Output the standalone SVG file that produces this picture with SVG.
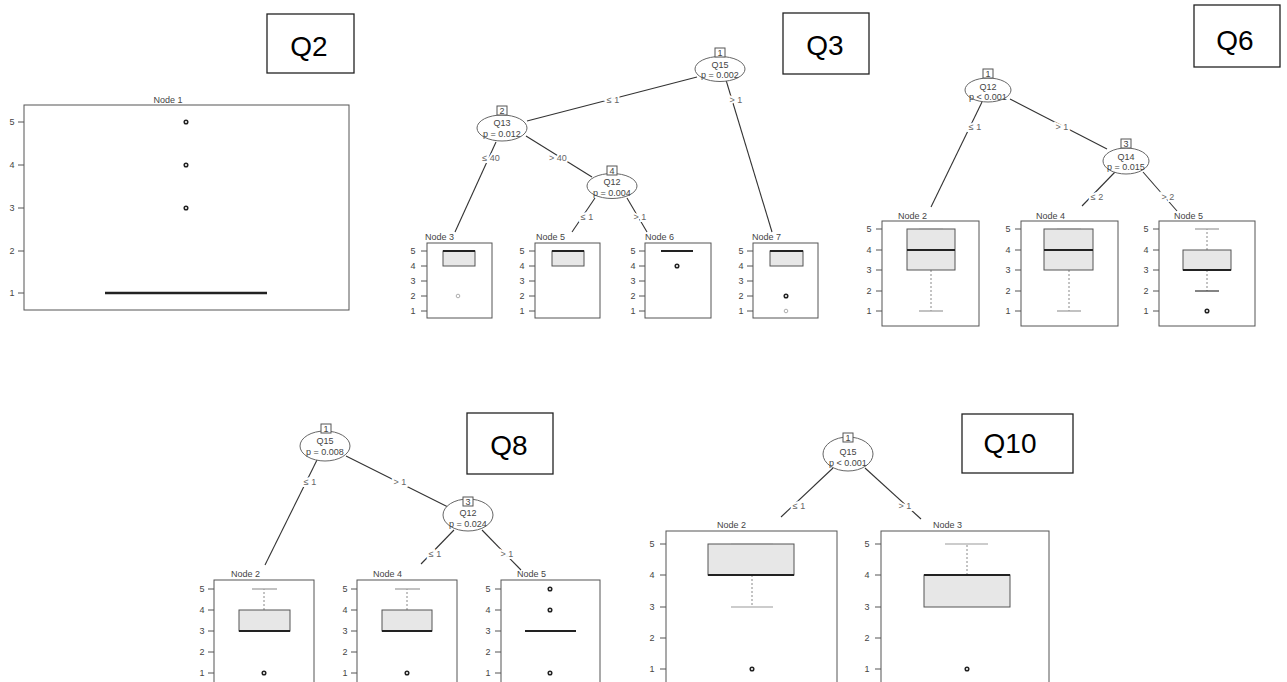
<svg xmlns="http://www.w3.org/2000/svg" width="1287" height="682" viewBox="0 0 1287 682">
<style>
.bg{fill:#fff}
.qbox{fill:#fff;stroke:#222;stroke-width:1.3}
.q{font-family:"Liberation Sans",Arial,sans-serif;font-size:28px;fill:#000;text-anchor:middle}
.edge{stroke:#333;stroke-width:1.1;fill:none}
.ell{fill:#fff;stroke:#666;stroke-width:1}
.idb{fill:#fff;stroke:#555;stroke-width:1}
.t{font-family:"Liberation Sans",Arial,sans-serif;font-size:9px;fill:#444}
.c{text-anchor:middle}
.lbl{font-family:"Liberation Sans",Arial,sans-serif;font-size:9px;fill:#666;text-anchor:middle;stroke:#fff;stroke-width:4;paint-order:stroke}
.panel{fill:#fff;stroke:#555;stroke-width:1}
.tick{stroke:#555;stroke-width:1;fill:none}
.iqr{fill:#e7e7e7;stroke:#555;stroke-width:1}
.med{stroke:#222;stroke-width:2}
.wh{stroke:#888;stroke-width:1;stroke-dasharray:2 2}
.cap{stroke:#999;stroke-width:1.2}
.out{fill:none;stroke:#222;stroke-width:1.5}
.outl{fill:none;stroke:#999;stroke-width:0.8}
</style>
<rect class="bg" x="0" y="0" width="1287" height="682"/>

<!-- Question labels -->
<g id="label-q2"><rect class="qbox" x="267" y="14" width="87" height="59"/><text class="q" x="309" y="56">Q2</text></g>
<g id="label-q3"><rect class="qbox" x="783" y="13" width="86" height="61"/><text class="q" x="825" y="55">Q3</text></g>
<g id="label-q6"><rect class="qbox" x="1194" y="5" width="86" height="62"/><text class="q" x="1235" y="50">Q6</text></g>
<g id="label-q8"><rect class="qbox" x="467" y="413" width="86" height="61"/><text class="q" x="509" y="455">Q8</text></g>
<g id="label-q10"><rect class="qbox" x="962" y="414" width="111" height="59"/><text class="q" x="1010" y="453">Q10</text></g>

<!-- Connectors -->
<g id="connectors">
  <!-- Q3 -->
  <line class="edge" x1="697" y1="77" x2="527" y2="121"/>
  <line class="edge" x1="726" y1="80" x2="772" y2="232"/>
  <line class="edge" x1="496" y1="142" x2="455" y2="232"/>
  <line class="edge" x1="526" y1="136" x2="592" y2="177"/>
  <line class="edge" x1="595" y1="198" x2="572" y2="232"/>
  <line class="edge" x1="627" y1="198" x2="647" y2="232"/>
  <text class="lbl" x="613" y="103">≤ 1</text>
  <text class="lbl" x="736" y="103">&gt; 1</text>
  <text class="lbl" x="491" y="161">≤ 40</text>
  <text class="lbl" x="558" y="161">&gt; 40</text>
  <text class="lbl" x="587" y="220">≤ 1</text>
  <text class="lbl" x="640" y="220">&gt; 1</text>
  <!-- Q6 -->
  <line class="edge" x1="982" y1="102" x2="931" y2="207"/>
  <line class="edge" x1="1010" y1="99" x2="1107" y2="149"/>
  <line class="edge" x1="1115" y1="172" x2="1082" y2="206"/>
  <line class="edge" x1="1143" y1="172" x2="1177" y2="211"/>
  <text class="lbl" x="975" y="130">≤ 1</text>
  <text class="lbl" x="1062" y="130">&gt; 1</text>
  <text class="lbl" x="1097" y="200">≤ 2</text>
  <text class="lbl" x="1168" y="200">&gt; 2</text>
  <!-- Q8 -->
  <line class="edge" x1="317" y1="460" x2="265" y2="565"/>
  <line class="edge" x1="346" y1="456" x2="448" y2="507"/>
  <line class="edge" x1="454" y1="530" x2="421" y2="564"/>
  <line class="edge" x1="482" y1="530" x2="521" y2="570"/>
  <text class="lbl" x="310" y="485">≤ 1</text>
  <text class="lbl" x="400" y="485">&gt; 1</text>
  <text class="lbl" x="435" y="557">≤ 1</text>
  <text class="lbl" x="507" y="557">&gt; 1</text>
  <!-- Q10 -->
  <line class="edge" x1="833" y1="468" x2="781" y2="517"/>
  <line class="edge" x1="865" y1="468" x2="921" y2="519"/>
  <text class="lbl" x="799" y="509">≤ 1</text>
  <text class="lbl" x="905" y="509">&gt; 1</text>
</g>

<!-- Q2 -->
<g id="q2-node1">
  <text class="t c" x="168" y="103">Node 1</text>
  <rect class="panel" x="24" y="105" width="325" height="205"/>
  <path class="tick" d="M18 122H24M18 165H24M18 208H24M18 251H24M18 293H24"/>
  <text class="t c" x="12" y="125">5</text><text class="t c" x="12" y="168">4</text><text class="t c" x="12" y="211">3</text><text class="t c" x="12" y="254">2</text><text class="t c" x="12" y="296">1</text>
  <line class="med" x1="105" y1="293" x2="267" y2="293" style="stroke-width:2.5"/>
  <circle class="out" cx="186" cy="122" r="1.8"/><circle class="out" cx="186" cy="165" r="1.8"/><circle class="out" cx="186" cy="208" r="1.8"/>
</g>

<!-- Q3 tree -->
<g id="q3-node1">
  <ellipse class="ell" cx="720" cy="69" rx="25" ry="12.5"/>
  <rect class="idb" x="715" y="48" width="10" height="9"/><text class="t c" x="720" y="56">1</text>
  <text class="t c" x="720" y="68">Q15</text><text class="t c" x="720" y="78">p = 0.002</text>
</g>
<g id="q3-node2">
  <ellipse class="ell" cx="502" cy="128" rx="25" ry="13"/>
  <rect class="idb" x="497" y="106" width="10" height="9"/><text class="t c" x="502" y="114">2</text>
  <text class="t c" x="502" y="126">Q13</text><text class="t c" x="502" y="137">p = 0.012</text>
</g>
<g id="q3-node4">
  <ellipse class="ell" cx="612" cy="186" rx="25" ry="12.5"/>
  <rect class="idb" x="607" y="166" width="10" height="9"/><text class="t c" x="612" y="174">4</text>
  <text class="t c" x="612" y="185">Q12</text><text class="t c" x="612" y="196">p = 0.004</text>
</g>
<g id="q3-node3">
  <text class="t" x="425" y="240">Node 3</text>
  <rect class="panel" x="427" y="243" width="65" height="75"/>
  <path class="tick" d="M421 251H427M421 266H427M421 281H427M421 296H427M421 311H427"/>
  <text class="t c" x="413" y="254">5</text><text class="t c" x="413" y="269">4</text><text class="t c" x="413" y="284">3</text><text class="t c" x="413" y="299">2</text><text class="t c" x="413" y="314">1</text>
  <rect class="iqr" x="443" y="251" width="32" height="15"/><line class="med" x1="443" y1="251" x2="475" y2="251"/>
  <circle class="outl" cx="458" cy="296" r="1.8"/>
</g>
<g id="q3-node5">
  <text class="t" x="536" y="240">Node 5</text>
  <rect class="panel" x="535" y="243" width="65" height="75"/>
  <path class="tick" d="M529 251H535M529 266H535M529 281H535M529 296H535M529 311H535"/>
  <text class="t c" x="522" y="254">5</text><text class="t c" x="522" y="269">4</text><text class="t c" x="522" y="284">3</text><text class="t c" x="522" y="299">2</text><text class="t c" x="522" y="314">1</text>
  <rect class="iqr" x="552" y="251" width="32" height="15"/><line class="med" x1="552" y1="251" x2="584" y2="251"/>
</g>
<g id="q3-node6">
  <text class="t" x="645" y="240">Node 6</text>
  <rect class="panel" x="645" y="243" width="66" height="75"/>
  <path class="tick" d="M639 251H645M639 266H645M639 281H645M639 296H645M639 311H645"/>
  <text class="t c" x="633" y="254">5</text><text class="t c" x="633" y="269">4</text><text class="t c" x="633" y="284">3</text><text class="t c" x="633" y="299">2</text><text class="t c" x="633" y="314">1</text>
  <line class="med" x1="661" y1="251" x2="693" y2="251"/>
  <circle class="out" cx="677" cy="266" r="1.8"/>
</g>
<g id="q3-node7">
  <text class="t" x="752" y="240">Node 7</text>
  <rect class="panel" x="753" y="243" width="65" height="75"/>
  <path class="tick" d="M747 251H753M747 266H753M747 281H753M747 296H753M747 311H753"/>
  <text class="t c" x="741" y="254">5</text><text class="t c" x="741" y="269">4</text><text class="t c" x="741" y="284">3</text><text class="t c" x="741" y="299">2</text><text class="t c" x="741" y="314">1</text>
  <rect class="iqr" x="770" y="251" width="33" height="15"/><line class="med" x1="770" y1="251" x2="803" y2="251"/>
  <circle class="out" cx="786" cy="296" r="1.8"/><circle class="outl" cx="786" cy="311" r="1.8"/>
</g>

<!-- Q6 tree -->
<g id="q6-node1">
  <ellipse class="ell" cx="988" cy="90" rx="23" ry="12"/>
  <rect class="idb" x="983" y="69" width="10" height="9"/><text class="t c" x="988" y="77">1</text>
  <text class="t c" x="988" y="90">Q12</text><text class="t c" x="988" y="100">p &lt; 0.001</text>
</g>
<g id="q6-node3">
  <ellipse class="ell" cx="1126" cy="161" rx="23" ry="13"/>
  <rect class="idb" x="1121" y="139" width="10" height="9"/><text class="t c" x="1126" y="147">3</text>
  <text class="t c" x="1126" y="160">Q14</text><text class="t c" x="1126" y="170">p = 0.015</text>
</g>
<g id="q6-node2">
  <text class="t" x="898" y="219">Node 2</text>
  <rect class="panel" x="882" y="221" width="97" height="105"/>
  <path class="tick" d="M876 229H882M876 250H882M876 270H882M876 291H882M876 311H882"/>
  <text class="t c" x="869" y="232">5</text><text class="t c" x="869" y="253">4</text><text class="t c" x="869" y="273">3</text><text class="t c" x="869" y="294">2</text><text class="t c" x="869" y="314">1</text>
  <line class="wh" x1="931" y1="270" x2="931" y2="311"/><line class="cap" x1="919" y1="311" x2="943" y2="311"/>
  <rect class="iqr" x="907" y="229" width="48" height="41"/><line class="cap" x1="919" y1="229" x2="943" y2="229"/>
  <line class="med" x1="907" y1="250" x2="955" y2="250"/>
</g>
<g id="q6-node4">
  <text class="t" x="1036" y="219">Node 4</text>
  <rect class="panel" x="1021" y="221" width="97" height="105"/>
  <path class="tick" d="M1015 229H1021M1015 250H1021M1015 270H1021M1015 291H1021M1015 311H1021"/>
  <text class="t c" x="1008" y="232">5</text><text class="t c" x="1008" y="253">4</text><text class="t c" x="1008" y="273">3</text><text class="t c" x="1008" y="294">2</text><text class="t c" x="1008" y="314">1</text>
  <line class="wh" x1="1069" y1="270" x2="1069" y2="311"/><line class="cap" x1="1057" y1="311" x2="1081" y2="311"/>
  <rect class="iqr" x="1044" y="229" width="49" height="41"/><line class="cap" x1="1057" y1="229" x2="1081" y2="229"/>
  <line class="med" x1="1044" y1="250" x2="1093" y2="250"/>
</g>
<g id="q6-node5">
  <text class="t" x="1174" y="219">Node 5</text>
  <rect class="panel" x="1159" y="221" width="96" height="105"/>
  <path class="tick" d="M1153 229H1159M1153 250H1159M1153 270H1159M1153 291H1159M1153 311H1159"/>
  <text class="t c" x="1146" y="232">5</text><text class="t c" x="1146" y="253">4</text><text class="t c" x="1146" y="273">3</text><text class="t c" x="1146" y="294">2</text><text class="t c" x="1146" y="314">1</text>
  <line class="wh" x1="1207" y1="250" x2="1207" y2="229"/><line class="cap" x1="1195" y1="229" x2="1219" y2="229"/>
  <line class="wh" x1="1207" y1="270" x2="1207" y2="291"/><line class="cap" x1="1195" y1="291" x2="1219" y2="291" style="stroke:#333"/>
  <rect class="iqr" x="1183" y="250" width="48" height="20"/>
  <line class="med" x1="1183" y1="270" x2="1231" y2="270"/>
  <circle class="out" cx="1207" cy="311" r="1.8"/>
</g>

<!-- Q8 tree -->
<g id="q8-node1">
  <ellipse class="ell" cx="325" cy="446" rx="25" ry="15"/>
  <rect class="idb" x="321" y="424" width="10" height="9"/><text class="t c" x="326" y="432">1</text>
  <text class="t c" x="325" y="444">Q15</text><text class="t c" x="325" y="455">p = 0.008</text>
</g>
<g id="q8-node3">
  <ellipse class="ell" cx="468" cy="515" rx="25" ry="16"/>
  <rect class="idb" x="463" y="497" width="10" height="9"/><text class="t c" x="468" y="505">3</text>
  <text class="t c" x="468" y="516">Q12</text><text class="t c" x="468" y="527">p = 0.024</text>
</g>
<g id="q8-node2">
  <text class="t" x="231" y="577">Node 2</text>
  <rect class="panel" x="214" y="580" width="100" height="115"/>
  <path class="tick" d="M208 589H214M208 610H214M208 631H214M208 652H214M208 673H214"/>
  <text class="t c" x="202" y="592">5</text><text class="t c" x="202" y="613">4</text><text class="t c" x="202" y="634">3</text><text class="t c" x="202" y="655">2</text><text class="t c" x="202" y="676">1</text>
  <line class="wh" x1="264" y1="610" x2="264" y2="589"/><line class="cap" x1="252" y1="589" x2="277" y2="589"/>
  <rect class="iqr" x="239" y="610" width="51" height="21"/>
  <line class="med" x1="239" y1="631" x2="290" y2="631"/>
  <circle class="out" cx="264" cy="673" r="1.8"/>
</g>
<g id="q8-node4">
  <text class="t" x="373" y="577">Node 4</text>
  <rect class="panel" x="357" y="580" width="100" height="115"/>
  <path class="tick" d="M351 589H357M351 610H357M351 631H357M351 652H357M351 673H357"/>
  <text class="t c" x="345" y="592">5</text><text class="t c" x="345" y="613">4</text><text class="t c" x="345" y="634">3</text><text class="t c" x="345" y="655">2</text><text class="t c" x="345" y="676">1</text>
  <line class="wh" x1="407" y1="610" x2="407" y2="589"/><line class="cap" x1="395" y1="589" x2="420" y2="589"/>
  <rect class="iqr" x="382" y="610" width="50" height="21"/>
  <line class="med" x1="382" y1="631" x2="432" y2="631"/>
  <circle class="out" cx="407" cy="673" r="1.8"/>
</g>
<g id="q8-node5">
  <text class="t" x="517" y="577">Node 5</text>
  <rect class="panel" x="501" y="580" width="99" height="115"/>
  <path class="tick" d="M495 589H501M495 610H501M495 631H501M495 652H501M495 673H501"/>
  <text class="t c" x="488" y="592">5</text><text class="t c" x="488" y="613">4</text><text class="t c" x="488" y="634">3</text><text class="t c" x="488" y="655">2</text><text class="t c" x="488" y="676">1</text>
  <line class="med" x1="525" y1="631" x2="576" y2="631"/>
  <circle class="out" cx="550" cy="589" r="1.8"/><circle class="out" cx="550" cy="610" r="1.8"/><circle class="out" cx="550" cy="673" r="1.8"/>
</g>

<!-- Q10 tree -->
<g id="q10-node1">
  <ellipse class="ell" cx="848" cy="454" rx="25" ry="17"/>
  <rect class="idb" x="843" y="433" width="10" height="9"/><text class="t c" x="848" y="441">1</text>
  <text class="t c" x="848" y="455">Q15</text><text class="t c" x="848" y="466">p &lt; 0.001</text>
</g>
<g id="q10-node2">
  <text class="t" x="717" y="528">Node 2</text>
  <rect class="panel" x="666" y="531" width="171" height="165"/>
  <path class="tick" d="M660 544H666M660 575H666M660 607H666M660 638H666M660 669H666"/>
  <text class="t c" x="652" y="547">5</text><text class="t c" x="652" y="578">4</text><text class="t c" x="652" y="610">3</text><text class="t c" x="652" y="641">2</text><text class="t c" x="652" y="672">1</text>
  <line class="wh" x1="752" y1="575" x2="752" y2="607"/><line class="cap" x1="731" y1="607" x2="773" y2="607"/>
  <rect class="iqr" x="708" y="544" width="86" height="31"/><line class="cap" x1="731" y1="544" x2="773" y2="544"/>
  <line class="med" x1="708" y1="575" x2="794" y2="575"/>
  <circle class="out" cx="752" cy="669" r="1.8"/>
</g>
<g id="q10-node3">
  <text class="t" x="933" y="528">Node 3</text>
  <rect class="panel" x="881" y="531" width="168" height="165"/>
  <path class="tick" d="M875 544H881M875 575H881M875 607H881M875 638H881M875 669H881"/>
  <text class="t c" x="867" y="547">5</text><text class="t c" x="867" y="578">4</text><text class="t c" x="867" y="610">3</text><text class="t c" x="867" y="641">2</text><text class="t c" x="867" y="672">1</text>
  <line class="wh" x1="967" y1="575" x2="967" y2="544"/><line class="cap" x1="945" y1="544" x2="988" y2="544"/>
  <rect class="iqr" x="924" y="575" width="86" height="32"/>
  <line class="med" x1="924" y1="575" x2="1010" y2="575"/>
  <circle class="out" cx="967" cy="669" r="1.8"/>
</g>
</svg>
